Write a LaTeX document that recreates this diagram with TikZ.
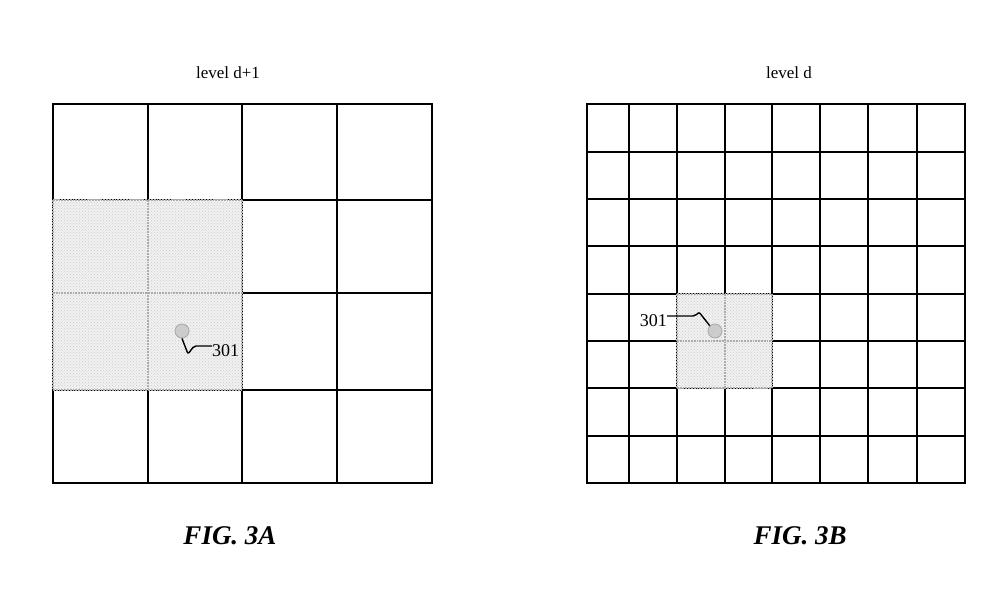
\documentclass[tikz,border=0pt]{standalone}
\usepackage{fontspec}
\setmainfont{Liberation Serif}
\usetikzlibrary{patterns}
\begin{document}
\begin{tikzpicture}[x=1pt,y=-1pt,
  gridline/.style={line width=2.4pt,line cap=rect},
  shaded/.style={fill=gray!11},
  dotted area/.style={pattern=crosshatch dots,pattern color=gray!40},
  dotline/.style={gray!65,line width=1.8pt,densely dotted},
  marker/.style={circle,draw=gray!65,fill=gray!40,line width=0.9pt,minimum size=14pt,inner sep=0pt},
  leader/.style={line width=1.4pt,rounded corners=2pt},
  numlabel/.style={font=\fontsize{18}{21}\selectfont,inner sep=0pt},
  toplabel/.style={font=\fontsize{17}{20}\selectfont},
  figlabel/.style={font=\fontsize{27}{32}\selectfont\bfseries\itshape}]
\useasboundingbox (0,0) rectangle (984,612);
\foreach \x in {53,148,242,337,432} \draw[gridline] (\x,104) -- (\x,483);
\foreach \y in {104,200,293,390,483} \draw[gridline] (53,\y) -- (432,\y);
\fill[shaded] (53,200) rectangle (242,390);
\fill[dotted area] (53,200) rectangle (242,390);
\foreach \x in {53,148,242} \draw[dotline] (\x,200) -- (\x,390);
\foreach \y in {200,293,390} \draw[dotline] (53,\y) -- (242,\y);
\node[toplabel] (levA) at (228,73) {level d+1};
\node[marker] (dotA) at (182,331) {};
\node[numlabel,anchor=west] (numA) at (212,351) {301};
\draw[leader] (dotA.south) -- (188,354) -- (194,346) -- ([yshift=5pt]numA.west);
\node[figlabel] (figA) at (230,536) {FIG. 3A};
\foreach \x in {587,629,677,725,772,820,868,917,965} \draw[gridline] (\x,104) -- (\x,483);
\foreach \y in {104,152,199,246,294,341,388,436,483} \draw[gridline] (587,\y) -- (965,\y);
\fill[shaded] (677,294) rectangle (772,388);
\fill[dotted area] (677,294) rectangle (772,388);
\foreach \x in {677,725,772} \draw[dotline] (\x,294) -- (\x,388);
\foreach \y in {294,341,388} \draw[dotline] (677,\y) -- (772,\y);
\node[toplabel] (levB) at (789,73) {level d};
\node[marker] (dotB) at (715,331) {};
\node[numlabel,anchor=east] (numB) at (667,321) {301};
\draw[leader] (dotB.north west) -- (699,312) -- (695,316) -- ([yshift=5pt]numB.east);
\node[figlabel] (figB) at (800,536) {FIG. 3B};
\end{tikzpicture}
\end{document}
